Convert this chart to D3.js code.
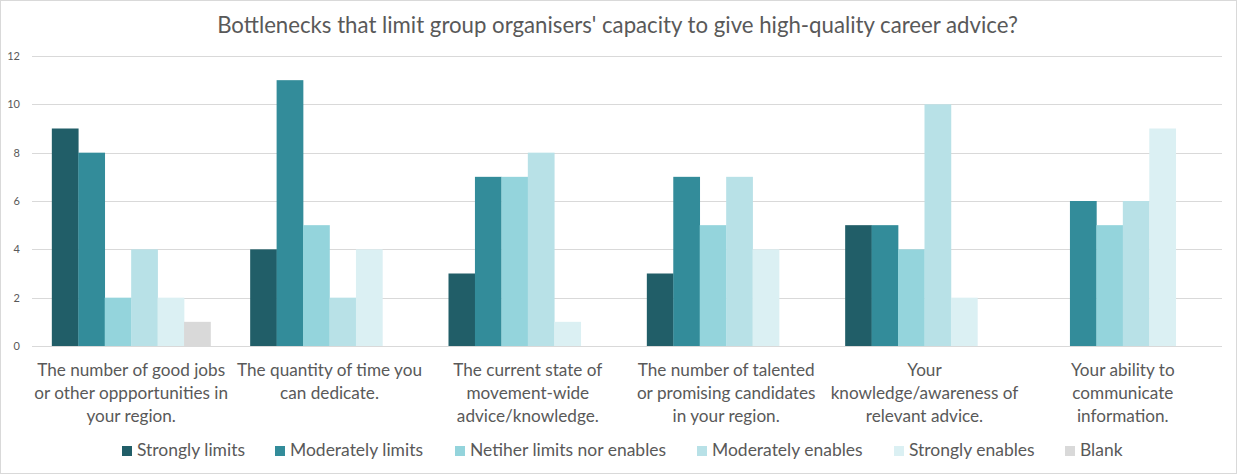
<!DOCTYPE html>
<html>
<head>
<meta charset="utf-8">
<script src="https://cdn.jsdelivr.net/npm/d3@7"></script>
<style>
  body { margin: 0; background: #fff; }
  text { font-family: Lato, "Open Sans", sans-serif; fill: #595959; }
</style>
</head>
<body>
<div id="chart"></div>
<script>
const width = 1237, height = 474;
const margin = {top: 56, right: 15, bottom: 128, left: 32};

// category tick labels, split into lines as in the picture
const categories = [
    ["The number of good jobs", "or other oppportunities in", "your region."],
    ["The quantity of time you", "can dedicate."],
    ["The current state of", "movement-wide", "advice/knowledge."],
    ["The number of talented", "or promising candidates", "in your region."],
    ["Your", "knowledge/awareness of", "relevant advice."],
    ["Your ability to", "communicate", "information."]
];

const seriesNames = ["Strongly limits", "Moderately limits", "Netiher limits nor enables",
    "Moderately enables", "Strongly enables", "Blank"];
const colors = ["#215e68", "#338c9a", "#94d4dc", "#b8e1e7", "#dbf0f3", "#d9d9d9"];

const stronglyLimits    = [9, 4, 3, 3, 5, 0];
const moderatelyLimits  = [8, 11, 7, 7, 5, 6];
const neither           = [2, 5, 7, 5, 4, 5];
const moderatelyEnables = [4, 2, 8, 7, 10, 6];
const stronglyEnables   = [2, 4, 1, 4, 2, 9];
const blank             = [1, 0, 0, 0, 0, 0];

const yTicks = [0, 2, 4, 6, 8, 10, 12];

const series = [stronglyLimits, moderatelyLimits, neither, moderatelyEnables, stronglyEnables, blank];

let svg = d3.select("#chart")
    .append("svg")
    .attr("width", width)
    .attr("height", height);

// the original uses Calibri, which is narrower than Lato; shrink the
// font so a sample string takes the same width as in the picture
function fitSize(sample, targetWidth, baseSize) {
    let t = svg.append("text").style("font-size", baseSize + "px").text(sample);
    let w = t.node().getComputedTextLength();
    t.remove();
    return baseSize * targetWidth / w;
}

// chart border
svg.append("rect")
    .attr("x", 0.5).attr("y", 0.5)
    .attr("width", width - 1).attr("height", height - 1)
    .attr("fill", "#fff")
    .attr("stroke", "#d9d9d9");

let titleText = "Bottlenecks that limit group organisers' capacity to give high-quality career advice?";
svg.append("text")
    .attr("x", width / 2 - 1)
    .attr("y", 33)
    .style("text-anchor", "middle")
    .style("font-size", fitSize(titleText, 801, 20) + "px")
    .text(titleText);

let plotW = width - margin.left - margin.right;
let plotH = height - margin.top - margin.bottom;

let g = svg.append("g")
    .attr("transform", `translate(${margin.left}, ${margin.top})`);

let x0 = d3.scaleBand()
    .domain(d3.range(categories.length))
    .range([0, plotW])
    .paddingInner(0)
    .paddingOuter(0);

// gap width ~150% in Excel terms
let bw = x0.bandwidth() / (series.length + 1.5);
let x1 = d3.scaleBand()
    .domain(d3.range(series.length))
    .range([bw * 0.75, x0.bandwidth() - bw * 0.75]);

let y = d3.scaleLinear()
    .domain([0, 12])
    .range([plotH, 0]);

// gridlines
g.append("g")
    .selectAll("line")
    .data(yTicks)
    .enter()
    .append("line")
    .attr("x1", 0)
    .attr("x2", plotW)
    .attr("y1", d => Math.round(y(d)) + 0.5)
    .attr("y2", d => Math.round(y(d)) + 0.5)
    .attr("stroke", "#d9d9d9")
    .attr("stroke-width", 1);

// y axis labels
let yAxis = g.append("g")
    .call(d3.axisLeft(y).tickValues(yTicks).tickSize(0).tickPadding(12));
yAxis.select(".domain").remove();
yAxis.selectAll("text")
    .style("font-size", "11px")
    .style("font-family", "Lato, sans-serif")
    .attr("fill", "#595959");

// bars
let groups = g.selectAll(".grp")
    .data(categories)
    .enter()
    .append("g")
    .attr("transform", (d, i) => `translate(${x0(i)}, 0)`);

groups.selectAll("rect")
    .data((d, i) => series.map((s, k) => ({k: k, v: s[i]})))
    .enter()
    .append("rect")
    .attr("x", d => x1(d.k))
    .attr("width", x1.bandwidth() + 0.3)
    .attr("y", d => y(d.v))
    .attr("height", d => plotH - y(d.v))
    .attr("fill", d => colors[d.k]);

// category labels
let catSize = fitSize(categories[0][0], 188, 16);
let catLabels = g.append("g")
    .attr("transform", `translate(0, ${plotH})`);

catLabels.selectAll("text")
    .data(categories)
    .enter()
    .append("text")
    .attr("x", (d, i) => x0(i) + x0.bandwidth() / 2)
    .attr("y", 30)
    .style("text-anchor", "middle")
    .style("font-size", catSize + "px")
    .each(function(d) {
        d3.select(this).selectAll("tspan")
            .data(d)
            .enter()
            .append("tspan")
            .attr("x", d3.select(this).attr("x"))
            .attr("dy", (t, j) => j == 0 ? 0 : 23)
            .text(t => t);
    });

// legend
let legSize = fitSize(seriesNames[0], 108, 16);
let legendX = [122, 275, 455, 697, 894, 1065];
let legend = svg.append("g")
    .selectAll("g")
    .data(seriesNames)
    .enter()
    .append("g")
    .attr("transform", (d, i) => `translate(${legendX[i]}, 450)`);

legend.append("rect")
    .attr("x", 0)
    .attr("y", -4)
    .attr("width", 10)
    .attr("height", 10)
    .attr("fill", (d, i) => colors[i]);

legend.append("text")
    .attr("x", 15)
    .attr("y", 6)
    .style("font-size", legSize + "px")
    .text(d => d);
</script>
</body>
</html>
